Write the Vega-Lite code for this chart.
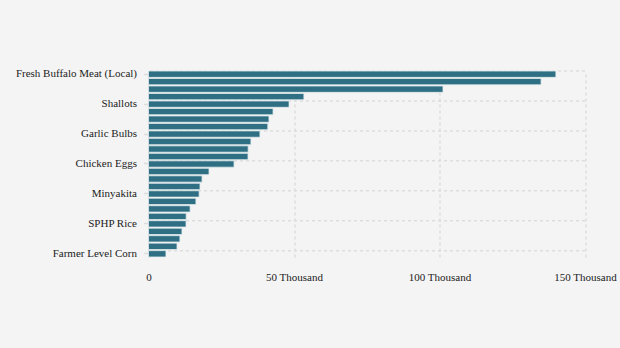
{
  "$schema": "https://vega.github.io/schema/vega-lite/v6.json",
  "autosize": {"type": "none"},
  "width": 436.5,
  "height": 186,
  "padding": {"left": 148.5, "top": 71, "right": 35, "bottom": 91},
  "background": "#f4f4f4",
  "config": {
    "view": {"stroke": null},
    "font": "Liberation Serif",
    "axis": {"labelFont": "Liberation Serif", "labelFontSize": 11, "labelColor": "#222222"}
  },
  "data": {
    "values": [
      {"name": "Fresh Buffalo Meat (Local)", "price": 140000},
      {"name": "Pure Beef", "price": 134900},
      {"name": "Frozen Buffalo Meat (Imported)", "price": 101200},
      {"name": "Red Cayenne Pepper", "price": 53400},
      {"name": "Shallots", "price": 48300},
      {"name": "Large Red Chili", "price": 42800},
      {"name": "Curly Red Chili", "price": 41400},
      {"name": "Milkfish", "price": 41000},
      {"name": "Garlic Bulbs", "price": 38300},
      {"name": "Mackerel", "price": 35200},
      {"name": "Purebred Chicken Meat", "price": 34250},
      {"name": "Tuna", "price": 34200},
      {"name": "Chicken Eggs", "price": 29400},
      {"name": "Packaged Cooking Oil", "price": 20800},
      {"name": "Consumption Sugar", "price": 18400},
      {"name": "Bulk Cooking Oil", "price": 17700},
      {"name": "Minyakita", "price": 17400},
      {"name": "Premium Rice", "price": 16300},
      {"name": "Medium Rice", "price": 14300},
      {"name": "Packaged Wheat Flour", "price": 12950},
      {"name": "SPHP Rice", "price": 12900},
      {"name": "Bulk Wheat Flour", "price": 11500},
      {"name": "Imported Soybeans", "price": 10800},
      {"name": "Consumption Salt", "price": 9800},
      {"name": "Farmer Level Corn", "price": 6000}
    ]
  },
  "layer": [
    {
      "transform": [{"filter": {"field": "name", "oneOf": ["Fresh Buffalo Meat (Local)", "Shallots", "Garlic Bulbs", "Chicken Eggs", "Minyakita", "SPHP Rice", "Farmer Level Corn"]}}],
      "mark": {"type": "rule", "color": "#dddddd", "strokeWidth": 1.5, "strokeDash": [3, 3]},
      "encoding": {
        "y": {"field": "name", "type": "nominal", "bandPosition": 0}
      }
    },
    {
      "mark": {"type": "bar", "color": "#2f6f84", "stroke": "#e3ecee", "strokeWidth": 0.8},
      "encoding": {
        "y": {
          "field": "name",
          "type": "nominal",
          "sort": null,
          "scale": {
            "domain": ["Fresh Buffalo Meat (Local)", "Pure Beef", "Frozen Buffalo Meat (Imported)", "Red Cayenne Pepper", "Shallots", "Large Red Chili", "Curly Red Chili", "Milkfish", "Garlic Bulbs", "Mackerel", "Purebred Chicken Meat", "Tuna", "Chicken Eggs", "Packaged Cooking Oil", "Consumption Sugar", "Bulk Cooking Oil", "Minyakita", "Premium Rice", "Medium Rice", "Packaged Wheat Flour", "SPHP Rice", "Bulk Wheat Flour", "Imported Soybeans", "Consumption Salt", "Farmer Level Corn"],
            "paddingInner": 0.15,
            "paddingOuter": 0
          },
          "axis": {
            "title": null,
            "values": ["Fresh Buffalo Meat (Local)", "Shallots", "Garlic Bulbs", "Chicken Eggs", "Minyakita", "SPHP Rice", "Farmer Level Corn"],
            "grid": false,
            "domain": true,
            "domainColor": "#dddddd",
            "domainWidth": 1,
            "ticks": true,
            "tickColor": "#dddddd",
            "tickSize": 5,
            "tickWidth": 1.5,
            "labelPadding": 7
          }
        },
        "x": {
          "field": "price",
          "type": "quantitative",
          "scale": {"domain": [0, 150000], "nice": false},
          "axis": {
            "title": null,
            "values": [0, 50000, 100000, 150000],
            "labelExpr": "datum.value == 0 ? '0' : (datum.value / 1000) + ' Thousand'",
            "domain": false,
            "ticks": false,
            "grid": true,
            "gridColor": "#dddddd",
            "gridWidth": 1.5,
            "gridDash": [3, 3],
            "labelPadding": 14,
            "labelFlush": false
          }
        }
      }
    }
  ]
}
